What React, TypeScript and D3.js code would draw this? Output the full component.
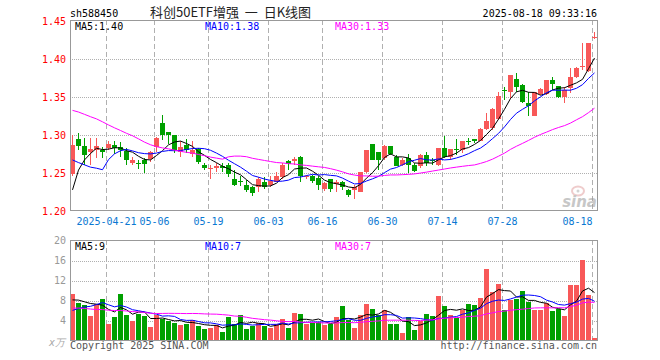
import React from 'react';
import * as d3 from 'd3';

// trading days shown
const dates = [
  '2025-04-11', '2025-04-14', '2025-04-15', '2025-04-16', '2025-04-17', '2025-04-18', '2025-04-21', '2025-04-22',
  '2025-04-23', '2025-04-24', '2025-04-25', '2025-04-28', '2025-04-29', '2025-04-30', '2025-05-06', '2025-05-07',
  '2025-05-08', '2025-05-09', '2025-05-12', '2025-05-13', '2025-05-14', '2025-05-15', '2025-05-16', '2025-05-19',
  '2025-05-20', '2025-05-21', '2025-05-22', '2025-05-23', '2025-05-26', '2025-05-27', '2025-05-28', '2025-05-29',
  '2025-05-30', '2025-06-03', '2025-06-04', '2025-06-05', '2025-06-06', '2025-06-09', '2025-06-10', '2025-06-11',
  '2025-06-12', '2025-06-13', '2025-06-16', '2025-06-17', '2025-06-18', '2025-06-19', '2025-06-20', '2025-06-23',
  '2025-06-24', '2025-06-25', '2025-06-26', '2025-06-27', '2025-06-30', '2025-07-01', '2025-07-02', '2025-07-03',
  '2025-07-04', '2025-07-07', '2025-07-08', '2025-07-09', '2025-07-10', '2025-07-11', '2025-07-14', '2025-07-15',
  '2025-07-16', '2025-07-17', '2025-07-18', '2025-07-21', '2025-07-22', '2025-07-23', '2025-07-24', '2025-07-25',
  '2025-07-28', '2025-07-29', '2025-07-30', '2025-07-31', '2025-08-01', '2025-08-04', '2025-08-05', '2025-08-06',
  '2025-08-07', '2025-08-08', '2025-08-11', '2025-08-12', '2025-08-13', '2025-08-14', '2025-08-15', '2025-08-18',
];

const opens = [
  1.249, 1.295, 1.286, 1.278, 1.281, 1.281, 1.283, 1.287, 1.284, 1.279, 1.264, 1.263, 1.268, 1.269, 1.284, 1.316,
  1.304, 1.300, 1.278, 1.287, 1.275, 1.282, 1.261, 1.256, 1.257, 1.260, 1.261, 1.243, 1.240, 1.235, 1.232, 1.232,
  1.239, 1.235, 1.239, 1.245, 1.266, 1.266, 1.271, 1.245, 1.246, 1.244, 1.230, 1.242, 1.236, 1.239, 1.228, 1.228,
  1.226, 1.252, 1.289, 1.278, 1.270, 1.286, 1.272, 1.261, 1.270, 1.261, 1.260, 1.274, 1.268, 1.261, 1.283, 1.272,
  1.282, 1.280, 1.293, 1.295, 1.293, 1.308, 1.309, 1.322, 1.360, 1.357, 1.374, 1.366, 1.343, 1.325, 1.354, 1.354,
  1.373, 1.365, 1.351, 1.362, 1.377, 1.390, 1.384, 1.429,
];
const highs = [
  1.300, 1.303, 1.296, 1.296, 1.296, 1.285, 1.292, 1.292, 1.291, 1.283, 1.272, 1.268, 1.270, 1.279, 1.298, 1.327,
  1.304, 1.301, 1.292, 1.295, 1.292, 1.283, 1.263, 1.261, 1.264, 1.263, 1.263, 1.255, 1.246, 1.241, 1.233, 1.245,
  1.245, 1.246, 1.252, 1.263, 1.268, 1.272, 1.273, 1.248, 1.248, 1.246, 1.239, 1.243, 1.241, 1.240, 1.230, 1.235,
  1.252, 1.281, 1.289, 1.278, 1.287, 1.286, 1.274, 1.270, 1.276, 1.263, 1.275, 1.278, 1.270, 1.283, 1.299, 1.282,
  1.295, 1.293, 1.297, 1.295, 1.309, 1.329, 1.336, 1.357, 1.364, 1.380, 1.382, 1.368, 1.357, 1.357, 1.362, 1.373,
  1.377, 1.365, 1.364, 1.389, 1.390, 1.421, 1.421, 1.436,
];
const lows = [
  1.246, 1.281, 1.261, 1.261, 1.270, 1.270, 1.281, 1.276, 1.272, 1.261, 1.261, 1.256, 1.250, 1.265, 1.278, 1.294,
  1.288, 1.277, 1.272, 1.277, 1.272, 1.262, 1.254, 1.242, 1.252, 1.252, 1.245, 1.233, 1.233, 1.226, 1.220, 1.225,
  1.230, 1.232, 1.238, 1.243, 1.254, 1.261, 1.239, 1.243, 1.237, 1.228, 1.227, 1.225, 1.225, 1.228, 1.219, 1.216,
  1.225, 1.250, 1.268, 1.254, 1.268, 1.274, 1.259, 1.259, 1.251, 1.252, 1.257, 1.259, 1.261, 1.260, 1.270, 1.268,
  1.274, 1.277, 1.287, 1.290, 1.292, 1.307, 1.307, 1.320, 1.346, 1.348, 1.357, 1.342, 1.325, 1.325, 1.353, 1.353,
  1.360, 1.349, 1.342, 1.355, 1.375, 1.386, 1.383, 1.427,
];
const closes = [
  1.287, 1.286, 1.274, 1.282, 1.286, 1.278, 1.289, 1.283, 1.281, 1.268, 1.268, 1.262, 1.262, 1.278, 1.297, 1.300,
  1.300, 1.281, 1.284, 1.281, 1.281, 1.265, 1.257, 1.257, 1.260, 1.257, 1.249, 1.235, 1.239, 1.228, 1.224, 1.243,
  1.232, 1.240, 1.246, 1.261, 1.262, 1.269, 1.246, 1.247, 1.240, 1.235, 1.237, 1.230, 1.239, 1.232, 1.222, 1.232,
  1.252, 1.280, 1.268, 1.268, 1.286, 1.276, 1.260, 1.268, 1.261, 1.253, 1.274, 1.263, 1.266, 1.283, 1.272, 1.282,
  1.280, 1.293, 1.292, 1.293, 1.308, 1.319, 1.334, 1.352, 1.358, 1.379, 1.363, 1.344, 1.339, 1.357, 1.361, 1.373,
  1.368, 1.351, 1.360, 1.377, 1.389, 1.391, 1.421, 1.430,
];
// volume, x万
const volumes = [
  9.3, 7.5, 7.2, 4.9, 7.4, 8.3, 3.3, 4.7, 9.3, 5.1, 3.9, 5.4, 4.9, 2.7, 5.1, 4.4,
  3.9, 3.5, 3.1, 3.3, 4.2, 2.9, 2.3, 2.5, 3.2, 1.7, 4.7, 3.3, 5.1, 2.3, 2.9, 3.6,
  2.9, 2.5, 3.3, 4.4, 2.5, 5.6, 5.4, 3.3, 3.5, 3.7, 3.1, 3.3, 4.7, 6.9, 4.1, 2.5,
  5.2, 7.3, 6.3, 5.2, 6.1, 3.3, 3.3, 1.5, 4.7, 2.1, 4.0, 5.3, 4.9, 8.9, 6.9, 5.1,
  4.5, 6.2, 7.3, 7.1, 8.5, 14.3, 9.7, 11.3, 6.1, 8.1, 8.3, 9.9, 7.7, 6.1, 6.1, 7.5,
  5.9, 6.3, 4.9, 11.1, 11.1, 16.1, 9.1, 0.5,
];

// sessions before the window, only feed the moving averages
const preCloses = [
  1.352, 1.366, 1.375, 1.372, 1.394, 1.411, 1.398, 1.386, 1.379, 1.365, 1.384, 1.392, 1.381, 1.372,
  1.349, 1.338, 1.333, 1.331, 1.318, 1.313,
  1.321, 1.304, 1.312, 1.300, 1.298, 1.156, 1.207, 1.240, 1.251,
];
const preVolumes = [
  7.2, 9.5, 8.4, 10.2, 8.8, 7.1, 6.5, 9.3, 8.0, 7.4, 6.9, 8.6, 7.8, 6.3,
  4.1, 3.2, 3.9, 3.5, 4.0, 3.5,
  3.6, 4.2, 3.5, 3.9, 4.3, 7.7, 8.9, 6.6, 8.1,
];

const tickDates = ['2025-04-21', '2025-05-06', '2025-05-19', '2025-06-03', '2025-06-16', '2025-06-30', '2025-07-14', '2025-07-28', '2025-08-18'];
const tickLabels = ['2025-04-21', '05-06', '05-19', '06-03', '06-16', '06-30', '07-14', '07-28', '08-18'];
const priceTicks = [1.2, 1.25, 1.3, 1.35, 1.4, 1.45];
const volTicks = [4, 8, 12, 16, 20];

const maDays = [5, 10, 30];
const maColors = ['#000000', '#0000ff', '#ff00ff'];

const UP = '#f85858';
const DOWN = '#00a000';
const GRID = '#b0b0b0';
const MONO = '"DejaVu Sans Mono", monospace';

function movingAvg(pre: number[], vals: number[], n: number) {
  const all = pre.concat(vals);
  return vals.map((_, i) => {
    const end = pre.length + i + 1;
    return d3.mean(all.slice(end - n, end)) as number;
  });
}

const floor2 = (v: number) => (Math.floor(v * 100 + 1e-6) / 100).toFixed(2);

export default function App() {
  const left = 70;
  const right = 597.5;

  const x = d3.scaleBand<string>()
    .domain(dates)
    .range([69.5, 597.5])
    .paddingInner(1 / 6)
    .paddingOuter(1 / 12);
  const bw = x.bandwidth();
  const cx = (d: string) => (x(d) as number) + 2.5;

  const y = d3.scaleLinear().domain([1.2, 1.45]).range([211.3, 21.3]);
  const yv = d3.scaleLinear().domain([0, 20]).range([340.5, 240.5]);

  const priceMA = maDays.map(n => movingAvg(preCloses, closes, n));
  const volMA = maDays.map(n => movingAvg(preVolumes, volumes, n));

  const priceLine = d3.line<number>().x((_, i) => cx(dates[i])).y(v => y(v));
  const volLine = d3.line<number>().x((_, i) => cx(dates[i])).y(v => yv(v));

  const up = (i: number) => closes[i] >= opens[i];
  const px = (v: number) => Math.round(v) + 0.5;

  const legendX = [75, 205, 335];

  return (
    <svg width={660} height={360} style={{ position: 'absolute', left: 0, top: 0, background: '#fff' }}
      fontFamily={MONO} fontSize={10}>
      {/* header */}
      <text x={70} y={16.5} fill="#000">sh588450</text>
      <text x={150} y={17} fontFamily='"Noto Sans CJK SC", sans-serif' fontSize={13} fill="#222" style={{ whiteSpace: 'pre' }}>{'科创50ETF增强  一  日K线图'}</text>
      <text x={597} y={16.5} textAnchor="end" fill="#000">2025-08-18 09:33:16</text>

      {/* price grid */}
      {priceTicks.slice(1, -1).map(t => (
        <line key={t} x1={left} x2={right} y1={px(y(t))} y2={px(y(t))} stroke={GRID} strokeDasharray="1,1" shapeRendering="crispEdges" />
      ))}
      {tickDates.map(d => (
        <g key={d}>
          <line x1={px(x(d) as number)} x2={px(x(d) as number)} y1={20} y2={210} stroke={GRID} strokeDasharray="5,3" shapeRendering="crispEdges" />
          <line x1={px(x(d) as number)} x2={px(x(d) as number)} y1={240} y2={340} stroke={GRID} strokeDasharray="5,3" shapeRendering="crispEdges" />
        </g>
      ))}
      {priceTicks.map(t => (
        <text key={t} x={66} y={y(t) + 3.5} textAnchor="end" fill="#ff0000">{t.toFixed(2)}</text>
      ))}

      {/* watermark */}
      <g opacity={0.55}>
        <ellipse cx={578} cy={191} rx={6} ry={4.5} fill="none" stroke="#e3a3a3" strokeWidth={2} />
        <circle cx={578} cy={191} r={1.5} fill="#b0b0b0" />
        <text x={597} y={207} textAnchor="end" fontFamily='"DejaVu Sans", sans-serif' fontSize={15} fontWeight="bold" fontStyle="italic" fill="#9a9a9a">sina</text>
      </g>

      {/* candles */}
      {dates.map((d, i) => {
        const top = y(Math.max(opens[i], closes[i]));
        const bot = y(Math.min(opens[i], closes[i]));
        const c = up(i) ? UP : DOWN;
        return (
          <g key={d} shapeRendering="crispEdges">
            <line x1={cx(d)} x2={cx(d)} y1={Math.round(y(highs[i]))} y2={Math.round(y(lows[i]))} stroke={c} />
            <rect x={x(d)} y={Math.round(top)} width={bw} height={Math.max(1, Math.round(bot) - Math.round(top))} fill={c} />
          </g>
        );
      })}
      {priceMA.map((m, k) => (
        <path key={k} d={priceLine(m) as string} fill="none" stroke={maColors[k]} strokeWidth={1} />
      ))}

      {/* price frame */}
      <rect x={70.5} y={20.5} width={527} height={190} fill="none" stroke="#999" shapeRendering="crispEdges" />
      {priceMA.map((m, k) => (
        <text key={k} x={legendX[k]} y={30} fill={maColors[k]}>{`MA${maDays[k]}:${floor2(m[m.length - 1])}`}</text>
      ))}

      {/* date axis */}
      {tickDates.map((d, i) => (
        <text key={d} x={px(x(d) as number)} y={225} textAnchor={i === tickDates.length - 1 ? 'end' : 'middle'} fill="#0a78d2">{tickLabels[i]}</text>
      ))}

      {/* volume */}
      {volTicks.slice(0, -1).map(t => (
        <line key={t} x1={left} x2={right} y1={px(yv(t))} y2={px(yv(t))} stroke={GRID} strokeDasharray="1,1" shapeRendering="crispEdges" />
      ))}
      {volTicks.map(t => (
        <text key={t} x={66} y={yv(t) + 3.5} textAnchor="end" fill="#999">{t}</text>
      ))}
      <text x={49} y={346} fill="#aaa" fontStyle="italic">x万</text>
      {dates.map((d, i) => (
        <rect key={d} x={x(d)} y={Math.round(yv(volumes[i]))} width={bw} height={Math.round(yv(0)) - Math.round(yv(volumes[i]))}
          fill={up(i) ? UP : DOWN} shapeRendering="crispEdges" />
      ))}
      {volMA.map((m, k) => (
        <path key={k} d={volLine(m) as string} fill="none" stroke={maColors[k]} strokeWidth={1} />
      ))}
      <rect x={70.5} y={240.5} width={527} height={100} fill="none" stroke="#999" shapeRendering="crispEdges" />
      {volMA.map((m, k) => (
        <text key={k} x={legendX[k]} y={250} fill={maColors[k]}>{`MA${maDays[k]}:${Math.floor(m[m.length - 1])}`}</text>
      ))}

      {/* footer */}
      <text x={70} y={349} fill="#555">Copyright 2025 SINA.COM</text>
      <text x={597} y={349} textAnchor="end" fill="#555">http://finance.sina.com.cn</text>
    </svg>
  );
}
